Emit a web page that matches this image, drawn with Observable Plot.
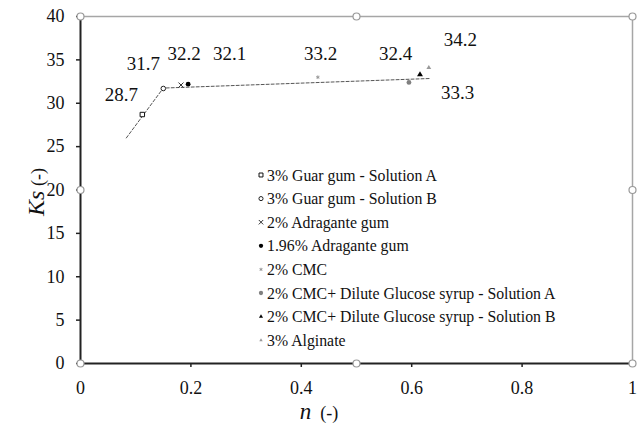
<!DOCTYPE html>
<html>
<head>
<meta charset="utf-8">
<script src="https://cdn.jsdelivr.net/npm/d3@7"></script>
<script src="https://cdn.jsdelivr.net/npm/@observablehq/plot@0.6"></script>
<style>
  html, body { margin: 0; padding: 0; background: #fff; }
  #chart { position: relative; width: 638px; height: 423px; }
  #chart svg, #chart svg text { font-family: "Liberation Serif", "DejaVu Serif", serif !important; }
</style>
</head>
<body>
<div id="chart"></div>
<script>
// ---- data ----
const seriesNames = [
  "3% Guar gum - Solution A",
  "3% Guar gum - Solution B",
  "2% Adragante gum",
  "1.96% Adragante gum",
  "2% CMC",
  "2% CMC+ Dilute Glucose syrup - Solution A",
  "2% CMC+ Dilute Glucose syrup - Solution B",
  "3% Alginate"
];
const nValues  = [0.112, 0.150, 0.182, 0.195, 0.430, 0.595, 0.615, 0.631];
const ksValues = [28.7, 31.7, 32.1, 32.2, 33.0, 32.4, 33.3, 34.1];

// value annotations (text + where they sit, in data units)
const labelTexts = ["28.7", "31.7", "32.2", "32.1", "33.2", "32.4", "34.2", "33.3"];
const labelN     = [0.074, 0.114, 0.1875, 0.270, 0.435, 0.571, 0.688, 0.683];
const labelKs    = [30.95, 34.5, 35.7, 35.7, 35.7, 35.7, 37.3, 31.2];

// dashed trend line
const trendN  = [0.083, 0.150, 0.632];
const trendKs = [26.0, 31.75, 32.85];

// ticks
const xTicks = [0, 0.2, 0.4, 0.6, 0.8, 1];
const yTicks = [0, 5, 10, 15, 20, 25, 30, 35, 40];

// chart-area handle markers
const handleN  = [0, 0.5, 1, 1, 1, 0.5, 0, 0];
const handleKs = [40, 40, 40, 20, 0, 0, 0, 20];

// ---- styles ----
const seriesStyles = [
  {symbol: "square",   fill: "white",   stroke: "#111", r: 2.5},
  {symbol: "circle",   fill: "white",   stroke: "#222", r: 2.3},
  {symbol: "times",    fill: "none",    stroke: "#333", r: 2.4},
  {symbol: "circle",   fill: "#000",    stroke: "none", r: 2.4},
  {symbol: "asterisk", fill: "none",    stroke: "#999", r: 1.7},
  {symbol: "circle",   fill: "#808080", stroke: "none", r: 2.4},
  {symbol: "triangle", fill: "#000",    stroke: "none", r: 2.2},
  {symbol: "triangle", fill: "#999",    stroke: "none", r: 1.8}
];

const points = nValues.map((n, i) => ({n, ks: ksValues[i], name: seriesNames[i]}));
const labels = labelTexts.map((t, i) => ({t, n: labelN[i], ks: labelKs[i]}));
const trend = trendN.map((n, i) => ({n, ks: trendKs[i]}));
const handles = handleN.map((n, i) => ({n, ks: handleKs[i]}));

const chart = Plot.plot({
  width: 638,
  height: 423,
  marginLeft: 80,
  marginRight: 6,
  marginTop: 16,
  marginBottom: 60,
  style: {background: "white", color: "#111"},
  x: {domain: [0, 1]},
  y: {domain: [0, 40]},
  marks: [
    Plot.ruleY([40], {stroke: "#a6a6a6", strokeWidth: 1.5}),
    Plot.ruleX([1], {stroke: "#a6a6a6", strokeWidth: 1.5}),
    Plot.axisY({ticks: yTicks, tickSize: 4, tickPadding: 12, fontSize: 18, label: null, stroke: "#222", strokeWidth: 1.5}),
    Plot.axisX({ticks: xTicks, tickSize: 4, tickPadding: 14, fontSize: 18, label: null, tickFormat: d => String(d), stroke: "#222", strokeWidth: 1.5}),
    Plot.ruleX([0], {stroke: "#222", strokeWidth: 2}),
    Plot.ruleY([0], {stroke: "#222", strokeWidth: 2}),
    Plot.line(trend, {x: "n", y: "ks", stroke: "#555", strokeWidth: 1, strokeDasharray: "3,2"}),
    ...points.map((p, i) => Plot.dot([p], {
      x: "n", y: "ks",
      symbol: seriesStyles[i].symbol,
      fill: seriesStyles[i].fill,
      stroke: seriesStyles[i].stroke,
      strokeWidth: 1,
      r: seriesStyles[i].r
    })),
    Plot.text(labels, {x: "n", y: "ks", text: "t", fontSize: 19, fill: "#111"}),
    Plot.dot(handles, {x: "n", y: "ks", r: 3.5, fill: "white", stroke: "#999", strokeWidth: 1.2})
  ]
});

document.getElementById("chart").appendChild(chart);

// ---- legend and axis titles (inside the svg) ----
const svg = d3.select(chart);
const symbolMap = {
  square: d3.symbolSquare, circle: d3.symbolCircle, times: d3.symbolTimes,
  asterisk: d3.symbolAsterisk, triangle: d3.symbolTriangle2
};
const legend = svg.append("g").attr("font-size", 15.8).attr("text-anchor", "start");
seriesNames.forEach((name, i) => {
  const st = seriesStyles[i];
  const yy = 175 + i * 23.6;
  legend.append("path")
    .attr("transform", `translate(261,${yy})`)
    .attr("d", d3.symbol(symbolMap[st.symbol], Math.PI * st.r * st.r * 0.8)())
    .attr("fill", st.fill).attr("stroke", st.stroke).attr("stroke-width", 1);
  legend.append("text")
    .attr("x", 267).attr("y", yy).attr("dy", "0.35em")
    .attr("text-anchor", "start")
    .attr("fill", "#111")
    .text(name);
});

const xt = svg.append("text")
  .attr("x", 319).attr("y", 419)
  .attr("text-anchor", "middle")
  .attr("fill", "#111");
xt.append("tspan").attr("font-style", "italic").attr("font-size", 23).text("n");
xt.append("tspan").attr("font-size", 18).text(" \u00a0(-)");

const yt = svg.append("text")
  .attr("transform", "translate(44,192) rotate(-90)")
  .attr("text-anchor", "middle")
  .attr("fill", "#111");
yt.append("tspan").attr("font-style", "italic").attr("font-size", 24).text("Ks");
yt.append("tspan").attr("font-size", 18).text(" (-)");
</script>
</body>
</html>
